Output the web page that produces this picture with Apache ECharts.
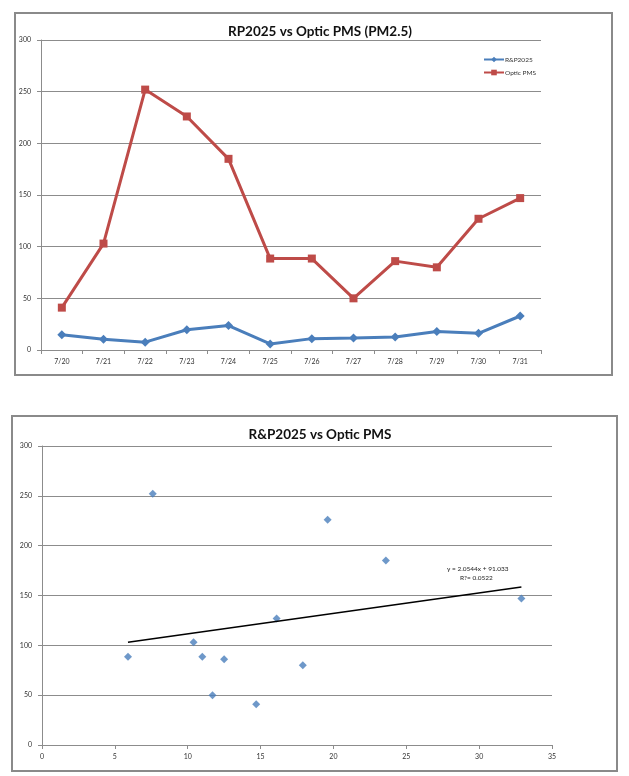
<!DOCTYPE html>
<html><head><meta charset="utf-8">
<script src="https://cdn.jsdelivr.net/npm/echarts@6/dist/echarts.min.js"></script>
<style>html,body{margin:0;padding:0;background:#fff}#c{width:629px;height:776px}</style>
</head><body><div id="c"></div>
<script>
const dates = ['7/20','7/21','7/22','7/23','7/24','7/25','7/26','7/27','7/28','7/29','7/30','7/31'];
const rp2025 = [14.7, 10.4, 7.6, 19.6, 23.6, 5.9, 11.0, 11.7, 12.5, 17.9, 16.1, 32.9];
const opticPMS = [41, 103, 252, 226, 185, 88.5, 88.5, 50, 86, 80, 127, 147];
const trendSlope = 2.0544, trendIntercept = 91.033, trendR2 = '0.0522';
const yTicksMax = 300, yTickStep = 50, xScatterMax = 35, xScatterStep = 5;

const scatterData = rp2025.map((x, i) => [x, opticPMS[i]]);
const xMin = Math.min(...rp2025), xMax = Math.max(...rp2025);
const trendData = [[xMin, trendSlope * xMin + trendIntercept], [xMax, trendSlope * xMax + trendIntercept]];

const blue = '#4a7ebb', red = '#be4b48', gridC = '#8c8c8c';
const font = 'Lato, "Liberation Sans", sans-serif';
const lbl = {fontSize: 7, color: '#333', fontFamily: font};

const chart = echarts.init(document.getElementById('c'), null, {renderer: 'canvas'});
chart.setOption({
  animation: false,
  textStyle: {fontFamily: font},
  graphic: [
    {type: 'rect', shape: {x: 15, y: 13, width: 597, height: 362}, style: {fill: 'none', stroke: '#8a8a8a', lineWidth: 2}},
    {type: 'rect', shape: {x: 12, y: 416, width: 605, height: 355}, style: {fill: 'none', stroke: '#8a8a8a', lineWidth: 2}},
    {type: 'text', left: 447, top: 565, style: {text: 'y = ' + trendSlope + 'x + ' + trendIntercept, fontSize: 6.5, fill: '#222', fontFamily: font}},
    {type: 'text', left: 460, top: 574, style: {text: 'R?= ' + trendR2, fontSize: 6.5, fill: '#222', fontFamily: font}}
  ],
  title: [
    {text: 'RP2025 vs Optic PMS (PM2.5)', left: 315, textAlign: 'center', top: 20, textStyle: {fontSize: 13.5, fontWeight: 'bold', color: '#111', fontFamily: font}},
    {text: 'R&P2025 vs Optic PMS', left: 315, textAlign: 'center', top: 423, textStyle: {fontSize: 13.5, fontWeight: 'bold', color: '#111', fontFamily: font}}
  ],
  legend: {
    data: ['R&P2025', 'Optic PMS'], left: 478, top: 51, orient: 'vertical', itemGap: 6,
    itemWidth: 20, itemHeight: 7, textStyle: {fontSize: 6.5, color: '#333', fontFamily: font, padding: [0, 0, 0, -4]}
  },
  grid: [
    {left: 41, top: 40, width: 500, height: 310},
    {left: 42, top: 446, width: 510, height: 299}
  ],
  xAxis: [
    {type: 'category', gridIndex: 0, data: dates, boundaryGap: true,
      axisLine: {lineStyle: {color: gridC, width: 1}}, axisTick: {show: true, lineStyle: {color: gridC}, length: 4},
      axisLabel: Object.assign({margin: 8}, lbl), splitLine: {show: false}},
    {type: 'value', gridIndex: 1, min: 0, max: xScatterMax, interval: xScatterStep,
      axisLine: {show: true, onZero: false, lineStyle: {color: gridC, width: 1}}, axisTick: {show: true, lineStyle: {color: gridC}, length: 4},
      axisLabel: Object.assign({margin: 8}, lbl), splitLine: {show: false}}
  ],
  yAxis: [
    {type: 'value', gridIndex: 0, min: 0, max: yTicksMax, interval: yTickStep,
      axisLine: {show: true, lineStyle: {color: gridC}}, axisTick: {show: true, lineStyle: {color: gridC}, length: 4},
      axisLabel: Object.assign({margin: 10}, lbl), splitLine: {lineStyle: {color: gridC, width: 1}}},
    {type: 'value', gridIndex: 1, min: 0, max: yTicksMax, interval: yTickStep,
      axisLine: {show: true, lineStyle: {color: gridC}}, axisTick: {show: true, lineStyle: {color: gridC}, length: 4},
      axisLabel: Object.assign({margin: 10}, lbl), splitLine: {lineStyle: {color: gridC, width: 1}}}
  ],
  series: [
    {name: 'R&P2025', type: 'line', xAxisIndex: 0, yAxisIndex: 0, data: rp2025,
      symbol: 'diamond', symbolSize: 9, itemStyle: {color: blue}, lineStyle: {color: blue, width: 3}},
    {name: 'Optic PMS', type: 'line', xAxisIndex: 0, yAxisIndex: 0, data: opticPMS,
      symbol: 'rect', symbolSize: 8, itemStyle: {color: red}, lineStyle: {color: red, width: 3}},
    {name: 'scatter', type: 'scatter', xAxisIndex: 1, yAxisIndex: 1, data: scatterData,
      symbol: 'diamond', symbolSize: 8, itemStyle: {color: blue}},
    {name: 'trend', type: 'line', xAxisIndex: 1, yAxisIndex: 1, data: trendData,
      symbol: 'none', lineStyle: {color: '#000', width: 1.5}}
  ]
});
</script></body></html>
